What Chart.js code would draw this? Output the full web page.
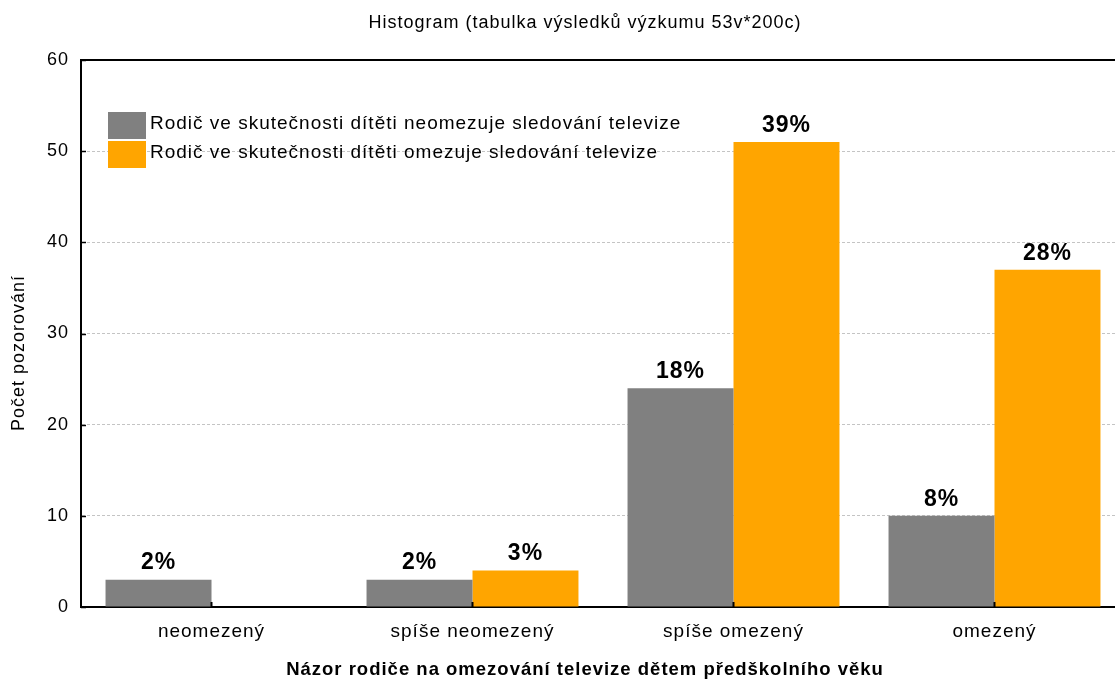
<!DOCTYPE html>
<html>
<head>
<meta charset="utf-8">
<script src="https://cdn.jsdelivr.net/npm/chart.js@4.4.1/dist/chart.umd.min.js"></script>
<style>
  html, body { margin: 0; padding: 0; background: #fff; overflow: hidden; }
  #wrap { width: 1125px; height: 682px; position: relative; }
</style>
</head>
<body>
<div id="wrap"><canvas id="c"></canvas></div>
<script>
// ---- data ----
const chartTitle = 'Histogram (tabulka výsledků výzkumu 53v*200c)';
const categories = ['neomezený', 'spíše neomezený', 'spíše omezený', 'omezený'];
const seriesNames = [
  'Rodič ve skutečnosti dítěti neomezuje sledování televize',
  'Rodič ve skutečnosti dítěti omezuje sledování televize'
];
const notLimiting = [3, 3, 24, 10];
const limiting = [0, 4, 51, 37];
const notLimitingLabels = ['2%', '2%', '18%', '8%'];
const limitingLabels = ['', '3%', '39%', '28%'];
const yTicks = [0, 10, 20, 30, 40, 50, 60];
const xAxisTitle = 'Názor rodiče na omezování televize dětem předškolního věku';
const yAxisTitle = 'Počet pozorování';

const FONT = "'Liberation Sans', Arial, sans-serif";
const SPACING = '1px';

const spacingPlugin = {
  id: 'spacing',
  beforeUpdate(chart) { chart.ctx.letterSpacing = SPACING; },
  beforeDraw(chart) { chart.ctx.letterSpacing = SPACING; }
};

const framePlugin = {
  id: 'frame',
  afterDraw(chart) {
    const ctx = chart.ctx, a = chart.chartArea;
    ctx.save();
    ctx.letterSpacing = SPACING;
    // top border
    ctx.strokeStyle = '#000';
    ctx.lineWidth = 2;
    ctx.beginPath();
    ctx.moveTo(a.left, a.top);
    ctx.lineTo(a.right, a.top);
    ctx.stroke();
    // small category ticks pointing up
    const xs = chart.scales.x;
    categories.forEach((c, i) => {
      const x = xs.getPixelForValue(i);
      ctx.beginPath();
      ctx.moveTo(x, a.bottom);
      ctx.lineTo(x, a.bottom - 5);
      ctx.stroke();
    });
    // small value ticks pointing inward on y axis
    const ys = chart.scales.y;
    ctx.lineWidth = 1.5;
    yTicks.forEach(v => {
      const y = Math.round(ys.getPixelForValue(v)) + 0.5;
      ctx.beginPath();
      ctx.moveTo(a.left, y);
      ctx.lineTo(a.left + 5, y);
      ctx.stroke();
    });
    ctx.fillStyle = '#000';
    ctx.textAlign = 'center';
    ctx.textBaseline = 'middle';
    // chart title
    ctx.font = '18px ' + FONT;
    ctx.fillText(chartTitle, 585, 23);
    // x axis title
    ctx.font = 'bold 18.5px ' + FONT;
    ctx.fillText(xAxisTitle, 585, 670);
    // y axis title
    ctx.save();
    ctx.translate(19, 353);
    ctx.rotate(-Math.PI / 2);
    ctx.font = '18px ' + FONT;
    ctx.fillText(yAxisTitle, 0, 0);
    ctx.restore();
    // value labels
    ctx.font = 'bold 23px ' + FONT;
    ctx.textBaseline = 'bottom';
    const labelSets = [notLimitingLabels, limitingLabels];
    chart.data.datasets.forEach((ds, di) => {
      const meta = chart.getDatasetMeta(di);
      meta.data.forEach((el, i) => {
        const t = labelSets[di][i];
        if (t) ctx.fillText(t, el.x, el.y - 5);
      });
    });
    // legend
    ctx.font = '19px ' + FONT;
    ctx.textAlign = 'left';
    ctx.textBaseline = 'middle';
    chart.data.datasets.forEach((ds, di) => {
      const y = 112 + di * 29;
      ctx.fillStyle = ds.backgroundColor;
      ctx.fillRect(108, y, 38, 27);
      ctx.fillStyle = '#000';
      ctx.fillText(ds.label, 150, y + 12);
    });
    ctx.restore();
  }
};

new Chart(document.getElementById('c'), {
  type: 'bar',
  data: {
    labels: categories,
    datasets: [
      { label: seriesNames[0], data: notLimiting, backgroundColor: '#808080' },
      { label: seriesNames[1], data: limiting, backgroundColor: '#FFA500' }
    ]
  },
  options: {
    responsive: true,
    maintainAspectRatio: false,
    animation: false,
    layout: { padding: { top: 60, left: 0, right: 0, bottom: 0 } },
    datasets: { bar: { categoryPercentage: 0.812, barPercentage: 1.0 } },
    plugins: { legend: { display: false }, title: { display: false }, tooltip: { enabled: false } },
    scales: {
      x: {
        grid: { display: false, drawTicks: false },
        border: { display: true, color: '#000', width: 2 },
        ticks: { color: '#000', font: { family: FONT, size: 19 }, padding: 13 },
        title: { display: false },
        afterFit(s) { s.height = 75; }
      },
      y: {
        min: 0, max: 60,
        afterBuildTicks(s) { s.ticks = yTicks.map(v => ({ value: v })); },
        grid: { color: '#c4c4c4', drawTicks: false, lineWidth: 1 },
        border: { display: true, color: '#000', width: 2, dash: [3, 2] },
        ticks: { color: '#000', font: { family: FONT, size: 18 }, padding: 12 },
        title: { display: false },
        afterFit(s) { s.width = 81; }
      }
    }
  },
  plugins: [spacingPlugin, framePlugin]
});
</script>
</body>
</html>
